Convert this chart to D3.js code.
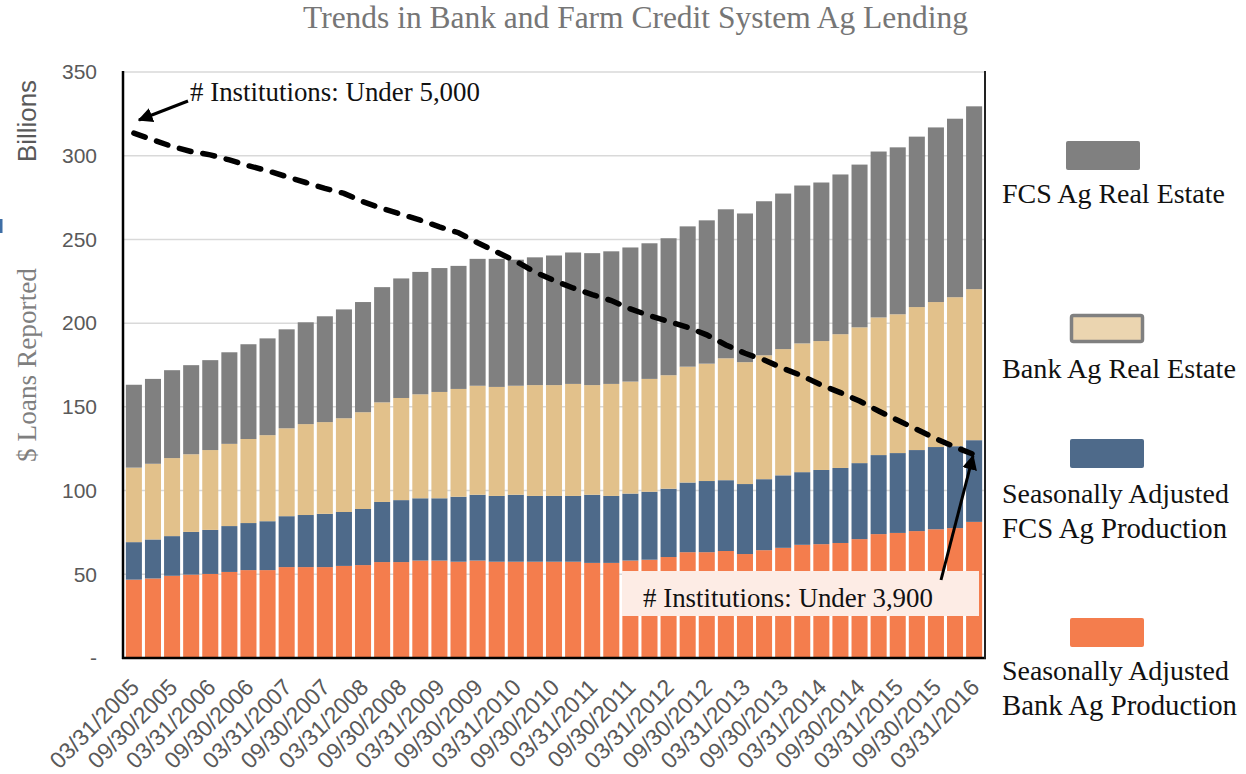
<!DOCTYPE html>
<html><head><meta charset="utf-8">
<script src="https://cdn.jsdelivr.net/npm/d3@7"></script>
<style>body{margin:0;background:#fff}</style>
</head><body><svg id="c" width="1246" height="774"></svg>
<script>
const quarters = [
 "03/31/2005","06/30/2005","09/30/2005","12/31/2005",
 "03/31/2006","06/30/2006","09/30/2006","12/31/2006",
 "03/31/2007","06/30/2007","09/30/2007","12/31/2007",
 "03/31/2008","06/30/2008","09/30/2008","12/31/2008",
 "03/31/2009","06/30/2009","09/30/2009","12/31/2009",
 "03/31/2010","06/30/2010","09/30/2010","12/31/2010",
 "03/31/2011","06/30/2011","09/30/2011","12/31/2011",
 "03/31/2012","06/30/2012","09/30/2012","12/31/2012",
 "03/31/2013","06/30/2013","09/30/2013","12/31/2013",
 "03/31/2014","06/30/2014","09/30/2014","12/31/2014",
 "03/31/2015","06/30/2015","09/30/2015","12/31/2015",
 "03/31/2016"];
const bankAgProduction = [46.8,47.5,49.1,49.8,50.2,51.4,52.5,52.5,54.3,54.3,54.3,55.0,55.5,57.3,57.3,58.2,58.2,57.5,58.2,57.5,57.5,57.5,57.5,57.5,56.8,56.8,58.2,58.7,60.3,63.2,63.2,63.9,62.1,64.4,65.8,67.6,68.0,68.7,71.0,74.0,74.7,75.8,76.9,77.6,81.3];
const fcsAgProduction = [22.4,23.3,23.7,25.5,26.3,27.4,28.1,29.2,30.4,31.1,31.8,32.2,33.5,35.9,37.0,37.2,37.2,38.8,39.3,39.3,40.0,39.3,39.3,39.3,40.7,40.0,40.0,40.6,40.8,41.6,42.5,42.3,41.8,42.4,43.3,43.4,44.3,44.8,45.4,47.2,47.7,48.4,49.1,48.9,48.8];
const bankAgRealEstate = [44.5,45.2,46.6,46.4,47.7,49.1,50.2,51.4,52.5,54.3,54.8,56.0,57.8,59.5,61.0,62.1,63.5,64.4,65.1,65.1,65.1,66.2,66.2,66.9,65.5,66.9,66.9,67.4,67.8,69.2,70.1,72.8,72.8,74.0,75.4,76.9,77.0,79.9,81.1,82.2,82.9,85.4,86.6,89.0,90.2];
const fcsAgRealEstate = [49.5,50.7,52.5,53.2,53.7,54.7,56.6,57.8,59.1,60.8,63.2,65.0,65.8,68.8,71.4,73.1,74.0,73.5,75.8,76.5,75.3,76.3,77.4,78.5,78.8,79.2,80.1,81.0,81.8,83.8,85.6,89.0,88.8,92.0,92.9,94.3,94.7,95.4,97.2,99.1,99.7,101.8,104.3,106.6,109.2];
// dashed "# institutions" trend, expressed in the left-axis units it is drawn against
const institutionsTrend = [313.5,309.5,305.5,302.5,300.5,297.5,294,291,287.5,284,280.5,277.5,272.5,268.5,265,261.5,257.5,254,248,242.5,237,230.5,225.5,221,217,213.5,208.5,204.5,201,197.5,193,187,182,178,173,168.5,163,158.5,153.5,147.5,142,136.5,131,126,121.5];
const yTicks = [0,50,100,150,200,250,300,350];
const seriesKeys = ["bankProd","fcsProd","bankRE","fcsRE"];
const seriesColors = {bankProd:"#f47d4d", fcsProd:"#4e6a8a", bankRE:"#e2c18b", fcsRE:"#808080"};
const legendItems = [
  {key:"fcsRE", lines:["FCS Ag Real Estate"]},
  {key:"bankRE", lines:["Bank Ag Real Estate"]},
  {key:"fcsProd", lines:["Seasonally Adjusted","FCS Ag Production"]},
  {key:"bankProd", lines:["Seasonally Adjusted","Bank Ag Production"]}
];
const titleText = "Trends in Bank and Farm Credit System Ag Lending";
const noteStart = "# Institutions: Under 5,000";
const noteEnd = "# Institutions: Under 3,900";

const table = quarters.map((q,i)=>({q, bankProd:bankAgProduction[i], fcsProd:fcsAgProduction[i], bankRE:bankAgRealEstate[i], fcsRE:fcsAgRealEstate[i]}));

const svg = d3.select("#c");
const serif = "'Liberation Serif', 'DejaVu Serif', serif";
const sans = "'Liberation Sans', Arial, sans-serif";
const L = 123, R = 985, T = 72, B = 658;

function fit(sel, target){
  const w = sel.node().getComputedTextLength();
  const fs = parseFloat(sel.attr("font-size"));
  sel.attr("font-size", (fs*target/w).toFixed(2));
  return sel;
}

const x = d3.scaleBand().domain(quarters).range([L,R]).paddingInner(0.16).paddingOuter(0.15);
const y = d3.scaleLinear().domain([0,350]).range([B,T]);

// gridlines
svg.append("g").selectAll("line").data(yTicks.filter(d=>d>0)).join("line")
  .attr("x1",L).attr("x2",R).attr("y1",d=>y(d)).attr("y2",d=>y(d))
  .attr("stroke","#d9d9d9").attr("stroke-width",1.5);

// stacked bars
const stack = d3.stack().keys(seriesKeys)(table);
svg.append("g").selectAll("g").data(stack).join("g")
  .attr("fill",d=>seriesColors[d.key])
  .selectAll("rect").data(d=>d).join("rect")
  .attr("x",d=>x(d.data.q)).attr("width",x.bandwidth())
  .attr("y",d=>y(d[1])).attr("height",d=>y(d[0])-y(d[1]));

// frame
svg.append("line").attr("x1",L).attr("x2",L).attr("y1",T-1).attr("y2",B+1).attr("stroke","#000").attr("stroke-width",2.5);
svg.append("line").attr("x1",L-1).attr("x2",R+1).attr("y1",B).attr("y2",B).attr("stroke","#000").attr("stroke-width",2.5);
svg.append("line").attr("x1",R).attr("x2",R).attr("y1",T-1).attr("y2",B+1).attr("stroke","#222").attr("stroke-width",2);

// y axis labels
svg.append("g").selectAll("text").data(yTicks).join("text")
  .attr("x",97).attr("y",d=>y(d)).attr("dy","0.35em").attr("text-anchor","end")
  .attr("font-family",sans).attr("font-size",21).attr("fill","#595959")
  .text(d=>d===0?"-":d);

// x axis
const xAxis = d3.axisBottom(x).tickValues(quarters.filter((d,i)=>i%2===0)).tickSize(0);
const gx = svg.append("g").attr("transform",`translate(0,${B})`).call(xAxis);
gx.select(".domain").remove();
gx.selectAll("text")
  .attr("font-family",sans).attr("font-size",23).attr("fill","#595959")
  .attr("text-anchor","end").attr("x",0).attr("y",0).attr("dy","0.35em")
  .attr("transform","translate(1,25) rotate(-45)");

// dashed line
const line = d3.line().x((d,i)=>x(quarters[i])+x.bandwidth()/2).y(d=>y(d));
svg.append("path").datum(institutionsTrend).attr("d",line)
  .attr("fill","none").attr("stroke","#000").attr("stroke-width",5.5)
  .attr("stroke-dasharray","12,12").attr("stroke-linecap","round");

// arrow marker
svg.append("defs").append("marker").attr("id","ah").attr("viewBox","0 0 10 10")
  .attr("refX",9).attr("refY",5).attr("markerWidth",5).attr("markerHeight",5)
  .attr("orient","auto").attr("markerUnits","strokeWidth")
  .append("path").attr("d","M0,0 L10,5 L0,10 z").attr("fill","#000");

// annotation 1
svg.append("line").attr("x1",188).attr("y1",101).attr("x2",139).attr("y2",120)
  .attr("stroke","#000").attr("stroke-width",3).attr("marker-end","url(#ah)");
fit(svg.append("text").attr("x",190).attr("y",101).attr("font-family",serif).attr("font-size",24).attr("fill","#111").text(noteStart),290);

// annotation 2
svg.append("rect").attr("x",622).attr("y",571).attr("width",357).attr("height",45).attr("fill","#fdece5");
svg.append("line").attr("x1",941).attr("y1",580).attr("x2",973).attr("y2",456)
  .attr("stroke","#000").attr("stroke-width",3).attr("marker-end","url(#ah)");
fit(svg.append("text").attr("x",643).attr("y",607).attr("font-family",serif).attr("font-size",24).attr("fill","#111").text(noteEnd),290);

// title
fit(svg.append("text").attr("x",635.5).attr("y",28).attr("text-anchor","middle")
  .attr("font-family",serif).attr("font-size",26).attr("fill","#767676").text(titleText),665);

// axis titles
fit(svg.append("text").attr("transform","translate(36,121) rotate(-90)").attr("text-anchor","middle")
  .attr("font-family",sans).attr("font-size",22).attr("fill","#595959").text("Billions"),82);
fit(svg.append("text").attr("transform","translate(36,365) rotate(-90)").attr("text-anchor","middle")
  .attr("font-family",serif).attr("font-size",22).attr("fill","#7f7f7f").text("$ Loans Reported"),194);
svg.append("rect").attr("x",0).attr("y",219).attr("width",2.5).attr("height",14).attr("fill","#3f6fa6");

// legend
const legendLayout = [
  {sw:[1066,141], base:[203], w:[223]},
  {sw:[1070,314], base:[378], w:[234]},
  {sw:[1070,439], base:[503,538], w:[227,225]},
  {sw:[1070,618], base:[680,715], w:[227,235]}
];
legendItems.forEach((it,i)=>{
  const lay = legendLayout[i];
  if(it.key==="bankRE"){
    svg.append("rect").attr("x",lay.sw[0]+1.5).attr("y",lay.sw[1]+1.5).attr("width",71).attr("height",26).attr("rx",2)
      .attr("fill","#ebd5b0").attr("stroke","#808080").attr("stroke-width",3.5);
  } else {
    svg.append("rect").attr("x",lay.sw[0]).attr("y",lay.sw[1]).attr("width",74).attr("height",29).attr("rx",2)
      .attr("fill",seriesColors[it.key]);
  }
  it.lines.forEach((ln,j)=>{
    fit(svg.append("text").attr("x",1002).attr("y",lay.base[j]).attr("font-family",serif).attr("font-size",24)
      .attr("fill","#111").text(ln), lay.w[j]);
  });
});
</script></body></html>
